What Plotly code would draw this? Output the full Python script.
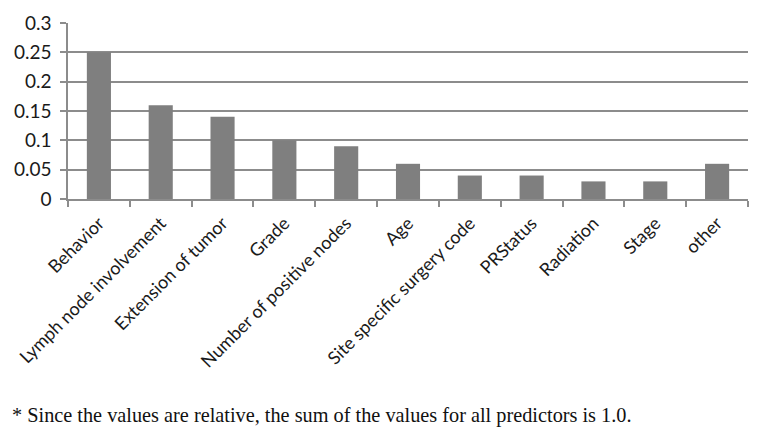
import plotly.graph_objects as go

categories = ["Behavior", "Lymph node involvement", "Extension of tumor", "Grade",
              "Number of positive nodes", "Age", "Site specific surgery code",
              "PRStatus", "Radiation", "Stage", "other"]
values = [0.25, 0.16, 0.14, 0.10, 0.09, 0.06, 0.04, 0.04, 0.03, 0.03, 0.06]
y_ticks = [0, 0.05, 0.1, 0.15, 0.2, 0.25, 0.3]
y_tick_labels = ["0", "0.05", "0.1", "0.15", "0.2", "0.25", "0.3"]
footnote = "* Since the values are relative, the sum of the values for all predictors is 1.0."

# page has an 8px body offset; margins compensate for it
OFF = 8
W, H = 761, 440
L, T = 68 - OFF, 23 - OFF
R = W - (748 - OFF)
B = H - (199 - OFF)
plot_w = W - L - R
plot_h = H - T - B

fig = go.Figure(go.Bar(x=categories, y=values, marker=dict(color="#7f7f7f", line=dict(width=0)),
                       width=0.39))

fig.update_layout(
    width=W, height=H,
    margin=dict(l=L, r=R, t=T, b=B, autoexpand=False),
    paper_bgcolor="white", plot_bgcolor="white",
    showlegend=False,
    font=dict(family="Lato, Open Sans, sans-serif", color="#1a1a1a"),
    xaxis=dict(
        tickangle=-45, tickfont=dict(size=18, family="Lato, sans-serif"),
        showline=True, linecolor="#8c8c8c", linewidth=1.5,
        ticks="outside", tickson="boundaries", ticklen=6, tickcolor="#8c8c8c", tickwidth=1.5,
        showgrid=False, range=[-0.5, 10.5], automargin=False, ticklabelstandoff=5,
    ),
    yaxis=dict(
        range=[0, 0.3], tickvals=y_ticks, ticktext=y_tick_labels,
        tickfont=dict(size=19, family="Lato, sans-serif"),
        showline=True, linecolor="#8c8c8c", linewidth=1.5,
        ticks="outside", ticklen=6, tickcolor="#8c8c8c", tickwidth=1.5,
        showgrid=True, gridcolor="#8c8c8c", gridwidth=1.5,
        zeroline=False, ticklabelstandoff=5, automargin=False,
    ),
    annotations=[dict(
        text=footnote, x=(10 - OFF - L) / plot_w, y=(H - B - (415 - OFF)) / plot_h,
        xref="paper", yref="paper",
        xanchor="left", yanchor="middle", showarrow=False,
        font=dict(family="Liberation Serif, Times New Roman, serif", size=20.3, color="#111111"),
    )],
)

fig.write_html("out.html")
